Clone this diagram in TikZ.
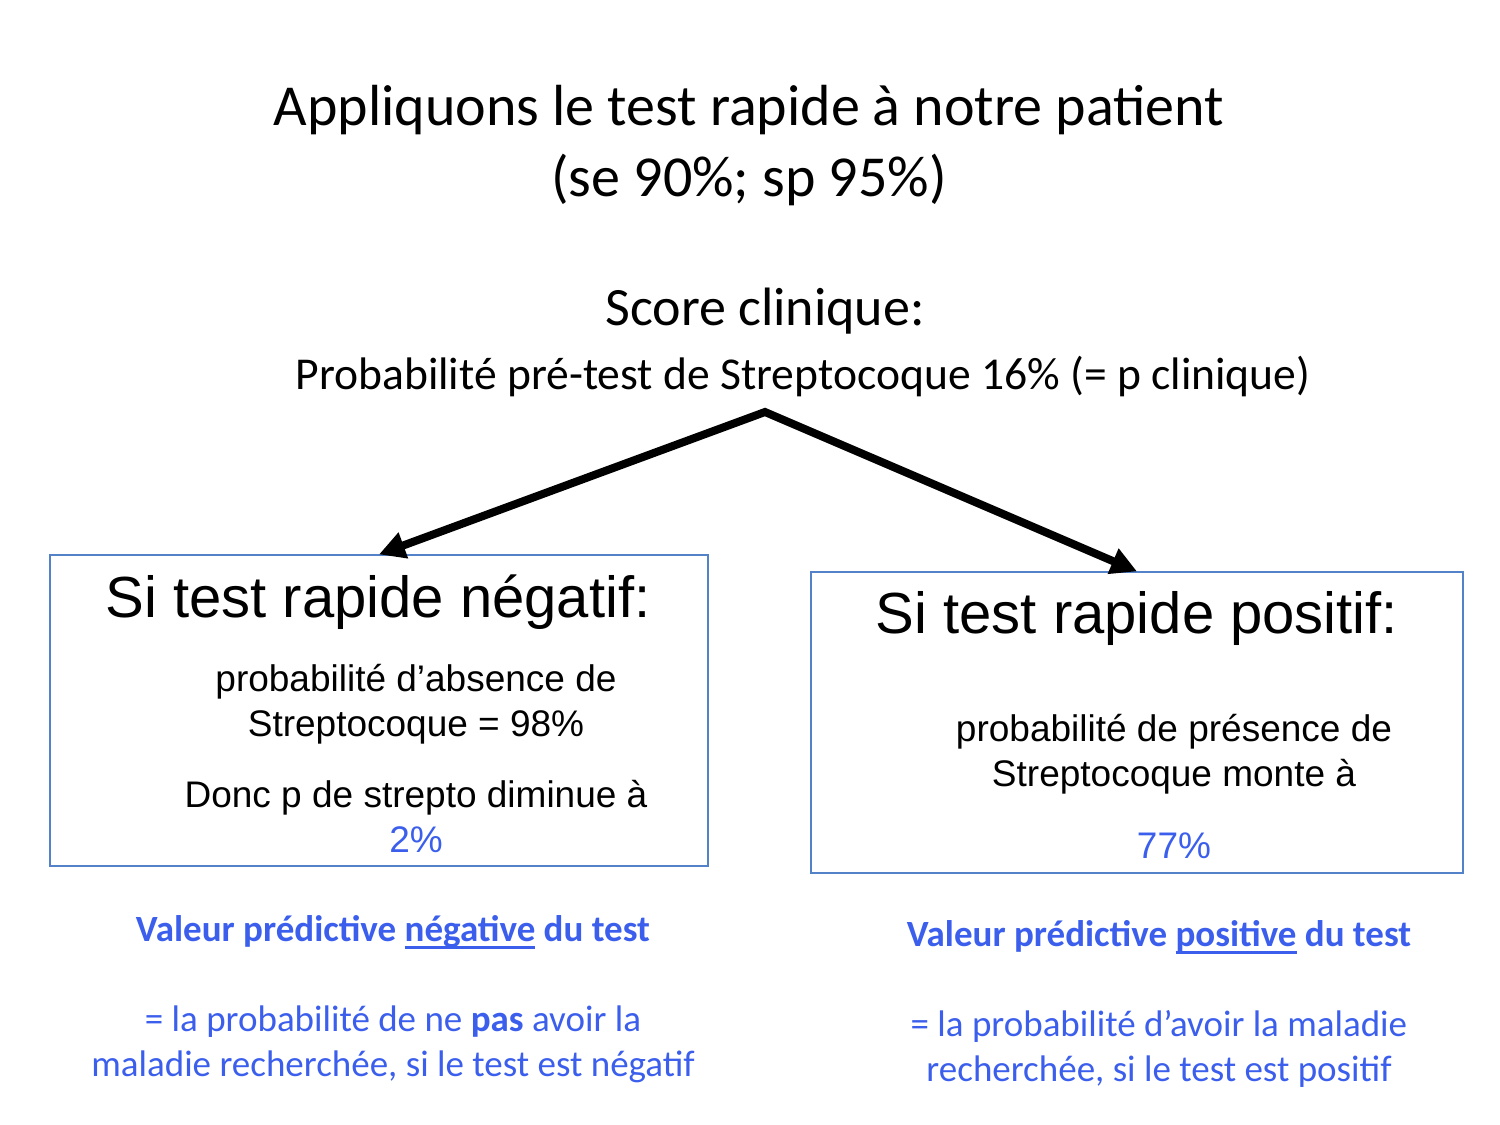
\documentclass[tikz,border=0pt]{standalone}
\usepackage{fontspec}
\setmainfont{Carlito}
\newfontfamily\arialfont{Liberation Sans}
\usetikzlibrary{arrows.meta}
\definecolor{vpblue}{RGB}{59,95,236}
\definecolor{boxblue}{RGB}{84,130,200}
\newcommand\vpline[1]{\setbox0\hbox{#1}\rlap{\rule[-3.6pt]{\wd0}{1.3pt}}\box0\relax}

\begin{document}
\begin{tikzpicture}[x=0.5pt,y=-0.5pt,every node/.style={align=center,inner sep=0pt},
  box/.style={draw=boxblue,line width=0.6pt},
  boxhead/.style={font=\arialfont\fontsize{29}{34}\selectfont},
  boxtext/.style={font=\arialfont\fontsize{18.5}{22.5}\selectfont},
  vptext/.style={text=vpblue,font=\fontsize{18.5}{22.5}\selectfont},
  split/.style={line width=4pt,line join=miter,{Triangle[length=13pt,width=13pt]}-{Triangle[length=13pt,width=13pt]}}]
	\useasboundingbox(0,0)rectangle(1500,1125);
	% title
	\node[font=\fontsize{29}{35.5}\selectfont](title)at(749,146){Appliquons le test rapide à notre patient\\(se 90\%; sp 95\%)};
	\node[font=\fontsize{27}{32}\selectfont](score)at(765,311){Score clinique:};
	\node[font=\fontsize{22.8}{27}\selectfont](pretest)at(803,376){Probabilité pré-test de Streptocoque 16\% (= p clinique)};
	\coordinate(top)at(765,412);
	% boxes
	\node[box,minimum width=329pt,minimum height=155.5pt](negbox)at(379,710.5){};
	\node[box,minimum width=326pt,minimum height=150.5pt](posbox)at(1137,722.5){};
	\draw[split](negbox.north)--(top)--(posbox.north);
	\node[boxhead](neghead)at(378,602){Si test rapide négatif:};
	\node[boxtext](negabs)at(416,704){probabilité d’absence de\\Streptocoque = 98\%};
	\node[boxtext](negp)at(416,816){Donc p de strepto diminue à\\\textcolor{vpblue}{2\%}};
	\node[boxhead](poshead)at(1137,618){Si test rapide positif:};
	\node[boxtext](pospres)at(1174,754){probabilité de présence de\\Streptocoque monte à};
	\node[boxtext,text=vpblue](pospct)at(1174,846){77\%};
	% predictive values
	\node[vptext](negvp)at(393,932){\bfseries Valeur prédictive \vpline{négative} du test};
	\node[vptext](negdef)at(393,1044){= la probabilité de ne \textbf{pas} avoir la\\maladie recherchée, si le test est négatif};
	\node[vptext](posvp)at(1159,937){\bfseries Valeur prédictive \vpline{positive} du test};
	\node[vptext](posdef)at(1159,1048.5){= la probabilité d’avoir la maladie\\recherchée, si le test est positif};
\end{tikzpicture}
\end{document}
